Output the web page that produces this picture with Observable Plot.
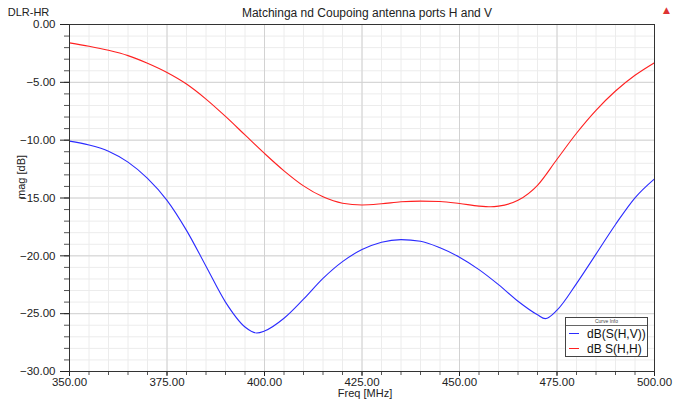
<!DOCTYPE html>
<html>
<head>
<meta charset="utf-8">
<script src="https://cdn.jsdelivr.net/npm/d3@7"></script>
<script src="https://cdn.jsdelivr.net/npm/@observablehq/plot@0.6"></script>
<style>
  html, body { margin: 0; padding: 0; background: #fff; }
  #chart { position: relative; width: 680px; height: 400px; }
</style>
</head>
<body>
<div id="chart"></div>
<script>
const freqHH = [350,355,360,365,370,375,380,385,390,395,400,405,410,415,420,425,430,435,440,445,450,455,458,460,465,470,475,480,485,490,495,500];
const magHH  = [-1.59,-1.88,-2.23,-2.69,-3.35,-4.15,-5.15,-6.45,-7.95,-9.55,-11.15,-12.65,-13.95,-14.9,-15.45,-15.6,-15.5,-15.33,-15.27,-15.3,-15.47,-15.7,-15.76,-15.7,-15.2,-13.9,-11.65,-9.4,-7.42,-5.75,-4.39,-3.3];

const freqHV = [350,355,360,365,370,375,380,385,390,395,398,400,405,410,415,420,425,430,435,440,445,450,455,460,465,470,472,475,480,485,490,495,500];
const magHV  = [-10.08,-10.42,-10.95,-11.9,-13.3,-15.2,-17.8,-20.9,-24.0,-26.15,-26.67,-26.5,-25.4,-23.75,-21.95,-20.5,-19.46,-18.82,-18.6,-18.74,-19.31,-20.12,-21.19,-22.49,-23.93,-25.1,-25.43,-24.7,-22.4,-19.85,-17.29,-14.98,-13.34];

const seriesNames = ["dB(S(H,V))", "dB S(H,H)"];
const seriesColors = ["#2b2bff", "#ff2020"];

const xMajor = [350, 375, 400, 425, 450, 475, 500];
const xMinor = d3.range(350, 501, 5);
const yMajor = [0, -5, -10, -15, -20, -25, -30];
const yMinor = d3.range(-30, 1, 1);

const title = "Matchinga nd Coupoing antenna ports H and V";
const cornerLabel = "DLR-HR";
const xLabel = "Freq [MHz]";
const yLabel = "mag [dB]";
const legendTitle = "Curve Info";

const dataHV = freqHV.map((f, i) => ({f, m: magHV[i], s: seriesNames[0]}));
const dataHH = freqHH.map((f, i) => ({f, m: magHH[i], s: seriesNames[1]}));

const fmt = d3.format(".2f");
const font = "Liberation Sans, Arial, sans-serif";

const plot = Plot.plot({
  width: 680,
  height: 400,
  marginLeft: 69,
  marginRight: 26,
  marginTop: 24,
  marginBottom: 29,
  style: {fontFamily: font, fontSize: "11px", color: "#222", background: "#fff"},
  x: {domain: [350, 500], label: null},
  y: {domain: [-30, 0], label: null},
  marks: [
    // minor grid
    Plot.ruleX(xMinor, {stroke: "#ececec", strokeWidth: 1}),
    Plot.ruleY(yMinor, {stroke: "#ececec", strokeWidth: 1}),
    // major grid
    Plot.ruleX(xMajor, {stroke: "#d2d2d2", strokeWidth: 1}),
    Plot.ruleY(yMajor, {stroke: "#d2d2d2", strokeWidth: 1}),
    // minor ticks
    Plot.axisX({ticks: xMinor, tickSize: 4, tickFormat: () => "", stroke: "#555"}),
    Plot.axisY({ticks: yMinor, tickSize: 5, tickFormat: () => "", stroke: "#555"}),
    // major ticks + labels
    Plot.axisX({ticks: xMajor, tickSize: 5, tickPadding: 1, tickFormat: fmt, label: null, fontSize: 11.5}),
    Plot.axisY({ticks: yMajor, tickSize: 9, tickPadding: 5, tickFormat: fmt, label: null, fontSize: 11.5}),
    // curves
    Plot.line(dataHH, {x: "f", y: "m", stroke: seriesColors[1], strokeWidth: 1.1, curve: "monotone-x"}),
    Plot.line(dataHV, {x: "f", y: "m", stroke: seriesColors[0], strokeWidth: 1.1, curve: "monotone-x"}),
    // frame
    Plot.frame({stroke: "#333", strokeWidth: 1}),
    // title and labels
    Plot.text([title], {frameAnchor: "top", lineAnchor: "middle", dy: -11, dx: 5, fontSize: 12, fill: "#222", text: d => d}),
    Plot.text([cornerLabel], {frameAnchor: "top-left", lineAnchor: "middle", dx: -41, dy: -12, textAnchor: "middle", fontSize: 11, fill: "#222", text: d => d}),
    Plot.text([xLabel], {frameAnchor: "bottom", lineAnchor: "middle", dy: 22, dx: 3, fontSize: 11, fill: "#222", text: d => d}),
    Plot.text([yLabel], {frameAnchor: "left", lineAnchor: "middle", dx: -48, dy: 1, rotate: -90, fontSize: 11, fill: "#222", text: d => d})
  ]
});

const chart = document.getElementById("chart");
chart.appendChild(plot);

// legend box (HTML overlay, positioned over the plot area)
const legend = document.createElement("div");
legend.style.cssText = `position:absolute;left:565px;top:317px;width:83px;height:40px;border:1px solid #444;background:#fff;font-family:${font};box-sizing:border-box;`;
legend.innerHTML = `
  <div style="font-size:5px;text-align:center;color:#444;line-height:7px;height:7px;border-bottom:1px solid #666;">${legendTitle}</div>
  ${seriesNames.map((n, i) => `<div style="display:flex;align-items:center;height:15px;font-size:12px;color:#111;white-space:nowrap;">
      <span style="display:inline-block;width:10px;height:0;border-top:1.2px solid ${seriesColors[i]};margin:0 8px 0 3px;"></span>${n}</div>`).join("")}
`;
chart.appendChild(legend);

// small warning icon top right
const icon = document.createElement("div");
icon.style.cssText = "position:absolute;left:663px;top:5px;font-size:9px;color:#d33;font-family:DejaVu Sans,sans-serif;";
icon.textContent = "▲";
chart.appendChild(icon);
</script>
</body>
</html>
